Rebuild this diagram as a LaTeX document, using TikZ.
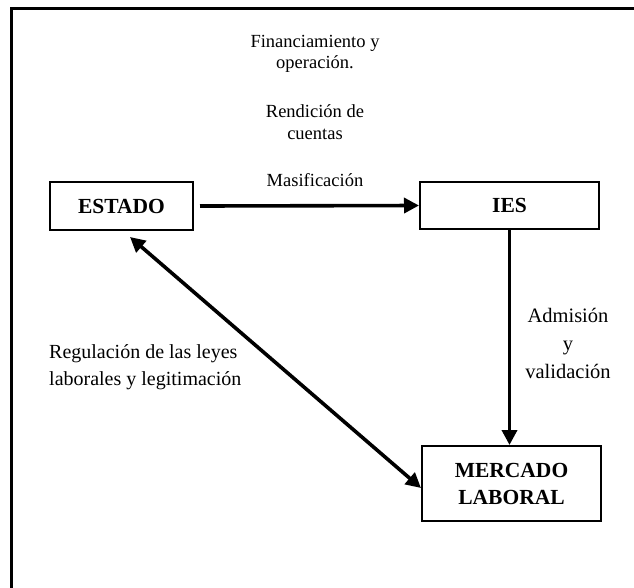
\documentclass[tikz,border=0pt]{standalone}
\usepackage{fontspec}
\setmainfont{Liberation Serif}
\usetikzlibrary{arrows.meta,calc}
\tikzset{
  box/.style={draw, line width=2pt, inner sep=0pt, font=\fontsize{21.5}{25}\selectfont\bfseries, align=center},
  toplbl/.style={font=\fontsize{18.5}{21.5}\selectfont, align=center, inner sep=0pt},
  sidelbl/.style={font=\fontsize{20}{27}\selectfont, inner sep=0pt},
  conn/.style={line width=3.6pt, -{Triangle[length=15pt,width=15pt]}},
  dconn/.style={line width=3.6pt, {Triangle[length=15pt,width=15pt]}-{Triangle[length=15pt,width=15pt]}},
}
\begin{document}
\begin{tikzpicture}[x=1pt,y=-1pt]
\useasboundingbox (0,0) rectangle (634,587);
\draw[line width=3pt] (11,590) -- (11,8) -- (640,8);
\node[box, minimum width=143pt, minimum height=48pt] (estado) at (121.5,206) {ESTADO};
\node[box, minimum width=179pt, minimum height=47pt] (ies) at (509.5,205.5) {IES};
\node[box, minimum width=179pt, minimum height=75pt] (mercado) at (511.5,483.5) {MERCADO\\[2pt]LABORAL};
\node[toplbl] (fin) at (315,54) {Financiamiento y\\operación.};
\node[toplbl] (ren) at (315,122) {Rendición de\\cuentas};
\node[toplbl] (mas) at (315,180) {Masificación};
\node[sidelbl, align=center, font=\fontsize{20.5}{28}\selectfont] (adm) at (568,343) {Admisión\\y\\validación};
\node[sidelbl, align=left, anchor=west] (reg) at (49,367) {Regulación de las leyes\\laborales y legitimación};
\draw[conn] ([xshift=6pt]estado.east) -- (ies.west);
\draw[conn] (ies.south) -- (ies.south |- mercado.north);
\draw[dconn] ([shift={(8.5,6)}]estado.south) -- ([shift={(0,4.5)}]mercado.west);
\end{tikzpicture}
\end{document}
